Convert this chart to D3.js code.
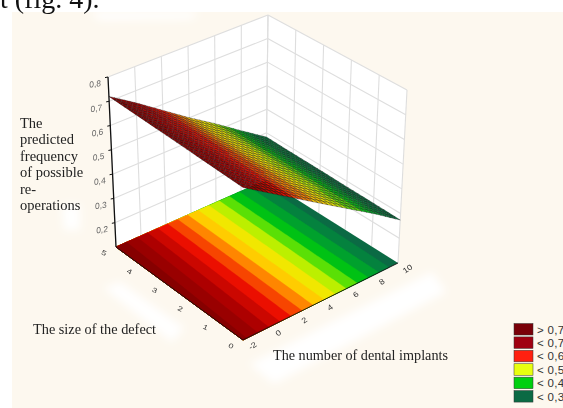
<!DOCTYPE html>
<html>
<head>
<meta charset="utf-8">
<script src="https://cdn.jsdelivr.net/npm/d3@7"></script>
<style>
html, body { margin: 0; padding: 0; background: #fff; overflow: hidden; }
svg { display: block; }
text { font-family: 'Liberation Serif', serif; fill: #222; }
</style>
</head>
<body>
<svg id="chart" width="563" height="408"></svg>
<script>
'use strict';

// values
var implantTicks = [-2, 0, 2, 4, 6, 8, 10];
var sizeTicks = [0, 1, 2, 3, 4, 5];
var valueTicks = [0.2, 0.3, 0.4, 0.5, 0.6, 0.7, 0.8];

// predicted frequency, one row per size of defect, one column per implant tick
var size0 = [0.700, 0.630, 0.560, 0.490, 0.420, 0.350, 0.274];
var size1 = [0.704, 0.634, 0.563, 0.492, 0.422, 0.351, 0.276];
var size2 = [0.708, 0.638, 0.566, 0.494, 0.424, 0.352, 0.277];
var size3 = [0.712, 0.642, 0.569, 0.496, 0.426, 0.353, 0.279];
var size4 = [0.716, 0.646, 0.572, 0.498, 0.428, 0.354, 0.280];
var size5 = [0.720, 0.650, 0.575, 0.500, 0.430, 0.355, 0.282];
var surfaceRows = [size0, size1, size2, size3, size4, size5];

var legendLabels = ['> 0,7', '< 0,7', '< 0,6', '< 0,5', '< 0,4', '< 0,3'];
var legendColors = ['#7a0008', '#a00010', '#ff2010', '#e8ff10', '#00d010', '#0b6a44'];
var rampLevels = [0.72, 0.64, 0.58, 0.53, 0.49, 0.45, 0.42, 0.38, 0.33, 0.29];
var rampColors = ['#7c0000', '#b00000', '#f01000', '#ff7a00', '#ffd800', '#e8f000', '#90ee00', '#00c810', '#00903a', '#0b6a44'];
var bandLevels = [0.30, 0.33, 0.36, 0.39, 0.42, 0.45, 0.48, 0.51, 0.54, 0.57, 0.60, 0.63, 0.66, 0.69, 0.72];

var yAxisLines = ['The', 'predicted', 'frequency', 'of possible', 're-', 'operations'];

var svg = d3.select('#chart');

var uScale = d3.scaleLinear().domain([-2, 10]).range([0, 1]);
var vScale = d3.scaleLinear().domain([0, 5]).range([0, 1]);
var wScale = d3.scaleLinear().domain([0.1, 0.8]).range([0, 1]);

// box corners on screen
var box = {
    floor: {front: [243, 340], right: [398, 263], left: [116, 247], back: [266, 180]},
    top: {front: [243, 162], right: [407, 90], left: [108, 77], back: [268, 15]}
};

function lerp(a, b, t) { return a + (b - a) * t; }

function corner(level, u, v) {
    var c = box[level];
    return [0, 1].map(function(k) {
        return lerp(lerp(c.front[k], c.right[k], u), lerp(c.left[k], c.back[k], u), v);
    });
}

function project(implant, size, value) {
    var u = uScale(implant), v = vScale(size), w = wScale(value),
        a = corner('floor', u, v), b = corner('top', u, v);
    return [lerp(a[0], b[0], w), lerp(a[1], b[1], w)];
}

// reads the table; the finer mesh below only exists for drawing
var rowScales = surfaceRows.map(function(row) {
    return d3.scaleLinear().domain(implantTicks).range(row);
});
function valueAt(implant, size) {
    return d3.scaleLinear().domain(sizeTicks)
        .range(rowScales.map(function(s) { return s(implant); }))(size);
}

var ramp = d3.scaleLinear().domain(rampLevels).range(rampColors).clamp(true);
var bandStep = bandLevels[1] - bandLevels[0];
function bandColor(value) {
    var i = d3.bisectRight(bandLevels, value);
    if (i === 0) return ramp(bandLevels[0]);
    return ramp(bandLevels[i - 1] + bandStep / 2);
}

function poly(points) {
    return 'M' + points.map(function(p) { return p[0] + ',' + p[1]; }).join('L') + 'Z';
}

// ================ paper and scan blotches
var defs = svg.append('defs');
defs.append('filter').attr('id', 'soft').attr('x', '-30%').attr('y', '-30%')
    .attr('width', '160%').attr('height', '160%')
    .append('feGaussianBlur').attr('stdDeviation', 4);
defs.append('filter').attr('id', 'print')
    .append('feGaussianBlur').attr('stdDeviation', 0.35);

svg.append('rect').attr('width', 563).attr('height', 408).attr('fill', '#fff');
svg.append('rect').attr('x', 12).attr('y', 12).attr('width', 551).attr('height', 396).attr('fill', '#fdf8ef');

var blotches = [
    [[104, 288], [120, 282], [184, 328], [172, 342]],
    [[250, 364], [340, 318], [432, 272], [446, 292], [274, 384]],
    [[62, 205], [80, 205], [80, 230], [64, 230]],
    [[90, 12], [200, 12], [190, 19], [100, 20]]
];
svg.append('g').attr('filter', 'url(#soft)').selectAll('path').data(blotches).enter()
    .append('path').attr('d', poly).attr('fill', '#fff');

// ================ walls
var leftWall = [project(-2, 5, 0.1), project(-2, 5, 0.8), project(10, 5, 0.8), project(10, 5, 0.1)];
var rightWall = [project(10, 5, 0.1), project(10, 5, 0.8), project(10, 0, 0.8), project(10, 0, 0.1)];
svg.append('path').attr('d', poly(leftWall)).attr('fill', '#fff');
svg.append('path').attr('d', poly(rightWall)).attr('fill', '#fff');

var grid = svg.append('g').attr('stroke', '#dedede').attr('stroke-width', 1.1).attr('fill', 'none');
function gridLine(a, b) {
    grid.append('line').attr('x1', a[0]).attr('y1', a[1]).attr('x2', b[0]).attr('y2', b[1]);
}
implantTicks.forEach(function(t) {
    gridLine(project(t, 5, 0.1), project(t, 5, 0.8));
});
sizeTicks.forEach(function(s) {
    gridLine(project(10, s, 0.1), project(10, s, 0.8));
});
valueTicks.forEach(function(z) {
    gridLine(project(-2, 5, z), project(10, 5, z));
    gridLine(project(10, 5, z), project(10, 0, z));
});

// ================ floor, contour bands of the same table
var gridW = 121, gridH = 61, floorValues = [];
var gridU = d3.scaleLinear().domain([0.5, gridW - 0.5]).range([-2, 10]).clamp(true);
var gridV = d3.scaleLinear().domain([0.5, gridH - 0.5]).range([0, 5]).clamp(true);
d3.range(gridH).forEach(function(j) {
    d3.range(gridW).forEach(function(i) {
        floorValues.push(valueAt(gridU(i + 0.5), gridV(j + 0.5)));
    });
});
var contours = d3.contours().size([gridW, gridH]).thresholds(bandLevels)(floorValues);
var floorPath = d3.geoPath(d3.geoTransform({
    point: function(x, y) {
        var p = project(gridU(x), gridV(y), 0.1);
        this.stream.point(p[0], p[1]);
    }
}));
var floorOutline = [project(-2, 0, 0.1), project(10, 0, 0.1), project(10, 5, 0.1), project(-2, 5, 0.1)];
svg.append('path').attr('d', poly(floorOutline)).attr('fill', legendColors[5]);
svg.append('g').selectAll('path').data(contours).enter().append('path')
    .attr('d', floorPath)
    .attr('fill', function(d) { return bandColor(d.value + 0.001); })
    .attr('stroke', function(d) { return bandColor(d.value + 0.001); })
    .attr('stroke-width', 0.4);

// ================ surface mesh, far facets first
var meshU = d3.range(33).map(d3.scaleLinear().domain([0, 32]).range([-2, 10]));
var meshV = d3.range(27).map(d3.scaleLinear().domain([0, 26]).range([0, 5]));
var facets = [];
d3.range(meshU.length - 1).forEach(function(i) {
    d3.range(meshV.length - 1).forEach(function(j) {
        facets.push({i: i, j: j});
    });
});
facets.sort(function(a, b) { return (b.i / 32 + b.j / 26) - (a.i / 32 + a.j / 26); });

function meshPoint(i, j) {
    return project(meshU[i], meshV[j], valueAt(meshU[i], meshV[j]));
}
svg.append('g').selectAll('path').data(facets).enter().append('path')
    .attr('d', function(d) {
        return poly([meshPoint(d.i, d.j), meshPoint(d.i + 1, d.j), meshPoint(d.i + 1, d.j + 1), meshPoint(d.i, d.j + 1)]);
    })
    .attr('fill', function(d) {
        return bandColor(valueAt((meshU[d.i] + meshU[d.i + 1]) / 2, (meshV[d.j] + meshV[d.j + 1]) / 2));
    })
    .attr('stroke', '#111')
    .attr('stroke-opacity', 0.75)
    .attr('stroke-width', 0.45);

// ================ axes
var axes = svg.append('g').attr('stroke', '#111').attr('fill', 'none');
axes.append('path').attr('stroke-width', 1.3)
    .attr('d', poly([project(-2, 5, 0.1), project(-2, 5, 0.8)]));
axes.append('path').attr('stroke-width', 0.9)
    .attr('d', 'M' + project(-2, 5, 0.1) + 'L' + project(-2, 0, 0.1) + 'L' + project(10, 0, 0.1));

var labels = svg.append('g').attr('filter', 'url(#print)');

valueTicks.forEach(function(z) {
    var p = project(-2, 5, z);
    axes.append('line').attr('x1', p[0] - 3).attr('y1', p[1] + 0.6).attr('x2', p[0]).attr('y2', p[1]).attr('stroke-width', 1);
    labels.append('text')
        .attr('transform', 'translate(' + (p[0] - 7) + ',' + (p[1] + 9) + ') rotate(-9) skewX(-10)')
        .attr('text-anchor', 'end')
        .style('font-family', "'Liberation Sans', sans-serif")
        .style('font-size', '8.5px')
        .style('fill', '#666')
        .text(String(z).replace('.', ','));
});

sizeTicks.forEach(function(s) {
    var p = project(-2, s, 0.1);
    labels.append('text')
        .attr('transform', 'translate(' + (p[0] - 13) + ',' + (p[1] + 8) + ') rotate(25) scale(1,0.75)')
        .attr('text-anchor', 'middle')
        .style('font-family', "'Liberation Sans', sans-serif")
        .style('font-size', '9px')
        .style('fill', '#333')
        .text(s);
});

implantTicks.forEach(function(t) {
    var p = project(t, 0, 0.1);
    labels.append('text')
        .attr('transform', 'translate(' + (p[0] + 11) + ',' + (p[1] + 8) + ') rotate(-35) scale(1,0.85)')
        .attr('text-anchor', 'middle')
        .style('font-family', "'Liberation Sans', sans-serif")
        .style('font-size', '9px')
        .style('fill', '#333')
        .text(t);
});

// ================ captions
svg.append('text').attr('x', 0).attr('y', 8).style('font-size', '28px').style('fill', '#111').text('t (fig. 4).');
yAxisLines.forEach(function(line, i) {
    svg.append('text').attr('x', 20).attr('y', 128 + i * 16.4).style('font-size', '14.5px').text(line);
});
svg.append('text').attr('x', 33).attr('y', 334).style('font-size', '14.3px').text('The size of the defect');
svg.append('text').attr('x', 273).attr('y', 360).style('font-size', '14.2px').text('The number of dental implants');

// ================ legend
var legendY = d3.scaleBand().domain(legendLabels).range([323.5, 404]);
var legend = svg.append('g').selectAll('g').data(legendLabels).enter().append('g')
    .attr('transform', function(d) { return 'translate(514,' + legendY(d) + ')'; });
legend.append('rect')
    .attr('width', 19).attr('height', 11.5)
    .attr('fill', function(d, i) { return legendColors[i]; })
    .attr('stroke', '#333').attr('stroke-width', 0.5);
legend.append('text')
    .attr('x', 23).attr('y', 10)
    .style('font-family', "'Liberation Sans', sans-serif")
    .style('font-size', '11.5px')
    .style('letter-spacing', '0.3px')
    .style('fill', '#333')
    .text(function(d) { return d; });
</script>
</body>
</html>
